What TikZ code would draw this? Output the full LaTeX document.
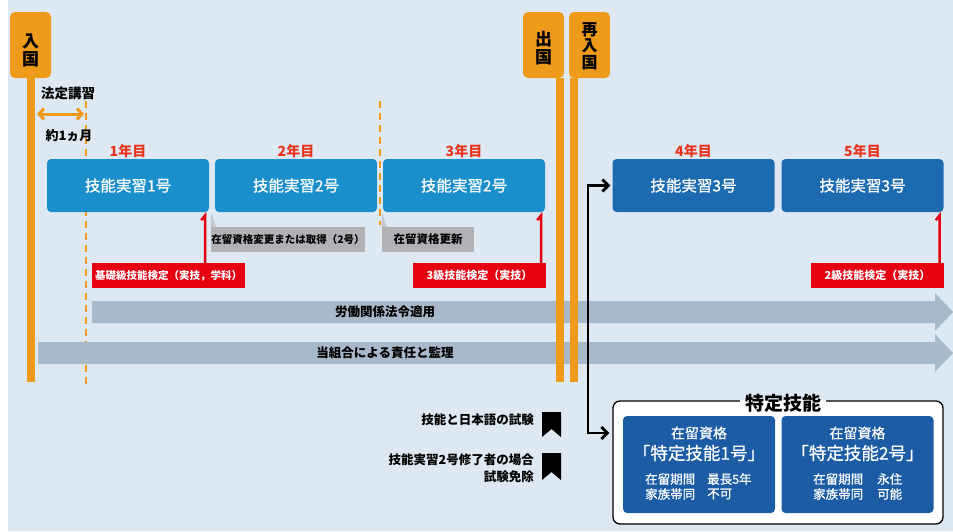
\documentclass[tikz,border=0pt]{standalone}
\usepackage{fontspec}
\setmainfont{Noto Sans CJK JP}
\newfontfamily\medfont[FakeBold=0.6]{Noto Sans CJK JP}
\usetikzlibrary{arrows.meta,calc}
\definecolor{bg}{HTML}{DDE8F3}
\definecolor{org}{HTML}{EE9B1C}
\definecolor{lblue}{HTML}{1B8FCB}
\definecolor{dblue}{HTML}{1C6BB0}
\definecolor{sblue}{HTML}{1B5CA5}
\definecolor{rd}{HTML}{E50012}
\definecolor{yr}{HTML}{E83520}
\definecolor{glab}{HTML}{B1B2B6}
\definecolor{gtab}{HTML}{C4C6CB}
\definecolor{garr}{HTML}{A8B9CA}
\newcommand{\fsz}[1]{\fontsize{#1}{#1}\selectfont}
\begin{document}
\begin{tikzpicture}[x=1pt,y=-1pt,
  post/.style={fill=org, rounded corners=5pt, minimum width=41pt, minimum height=66pt, inner sep=0pt},
  posttext/.style={inner sep=0pt, align=center, font=\fontsize{17}{18}\selectfont\bfseries},
  oline/.style={draw=org, line width=8pt},
  odash/.style={draw=org, line width=2.5pt, dash pattern=on 7pt off 5pt},
  yearlab/.style={text=yr, font=\fsz{14}\bfseries, inner sep=0pt},
  lbox/.style={fill=lblue, text=white, minimum width=162pt, minimum height=53pt, rounded corners=4pt, inner sep=0pt, font=\medfont\fsz{15.5}},
  dbox/.style={lbox, fill=dblue},
  rlab/.style={fill=rd, text=white, minimum height=25pt, inner sep=0pt, font=\fsz{11}\bfseries},
  rline/.style={draw=rd, line width=2.5pt},
  glabel/.style={fill=glab, text=black, minimum height=25pt, inner sep=0pt, font=\fsz{10.5}\bfseries},
  atext/.style={font=\fsz{12.5}\bfseries, inner sep=0pt},
  blk/.style={draw=black, line width=2.8pt},
  sbox/.style={fill=sblue, minimum width=152pt, minimum height=97pt, rounded corners=4pt, inner sep=0pt},
  stext/.style={text=white, inner sep=0pt},
  extext/.style={font=\fontsize{12.5}{17}\selectfont\bfseries, inner sep=0pt, align=right, anchor=east}
]
\useasboundingbox (0,0) rectangle (953,531);
\fill[white] (0,0) rectangle (953,531);
\fill[bg] (8,0) rectangle (953,531);

% dashed orange guides
\coordinate (d1a) at (86,101);
\coordinate (d1b) at (86,388);
\draw[odash] (d1a) -- (d1b);
\coordinate (d2a) at (380,101);
\coordinate (d2b) at (380,225);
\draw[odash] (d2a) -- (d2b);

% grey arrows
\fill[garr] (92,301) -- (935,301) -- (935,293) -- (953,312) -- (935,331) -- (935,323) -- (92,323) -- cycle;
\node[atext] (a1t) at (385,312) {労働関係法令適用};
\fill[garr] (38,342) -- (935,342) -- (935,334) -- (953,353) -- (935,372) -- (935,364) -- (38,364) -- cycle;
\node[atext] (a2t) at (385,353) {当組合による責任と監理};

% orange posts
\node[post] (pin) at (30.5,45) {};
\node[posttext] (pinT) at (30.5,50) {入\\国};
\coordinate (pinEnd) at (30.5,382);
\draw[oline] (pin.south) -- (pinEnd);
\node[post] (pout) at (543.5,45) {};
\node[posttext] (poutT) at (543.5,48) {出\\国};
\coordinate (poutEnd) at (560,382);
\draw[oline] (pout.south -| poutEnd) -- (poutEnd);
\node[post] (pre) at (589.5,45) {};
\node[posttext, font=\fontsize{16}{16.5}\selectfont\bfseries] (preT) at (589.5,46) {再\\入\\国};
\coordinate (preEnd) at (574,382);
\draw[oline] (pre.south -| preEnd) -- (preEnd);

% legal training
\coordinate (ha) at (37,114);
\coordinate (hb) at (84,114);
\draw[draw=org, line width=3pt, {Straight Barb[length=5pt,width=11pt]}-{Straight Barb[length=5pt,width=11pt]}] (ha) -- (hb);
\node[font=\fsz{13.5}\bfseries, inner sep=0pt] (hk) at (68,93) {法定講習};
\node[font=\fsz{13}\bfseries, inner sep=0pt] (ym) at (69,136) {約1ヵ月};

% year labels
\node[yearlab] (y1) at (128,151) {1年目};
\node[yearlab] (y2) at (296,151) {2年目};
\node[yearlab] (y3) at (464,151) {3年目};
\node[yearlab] (y4) at (693.5,151) {4年目};
\node[yearlab] (y5) at (862.5,151) {5年目};

% boxes
\node[lbox] (b1) at (128,185.5) {技能実習1号};
\node[lbox] (b2) at (296,185.5) {技能実習2号};
\node[lbox] (b3) at (464,185.5) {技能実習2号};
\node[dbox] (b4) at (693.5,185.5) {技能実習3号};
\node[dbox] (b5) at (862.5,185.5) {技能実習3号};

% grey labels
\node[glabel, minimum width=148pt] (g1) at (288,239.5) {在留資格変更または取得（2号）};
\fill[gtab] (g1.north west) -- ++(0,-14) -- ++(5,14) -- cycle;
\node[glabel, minimum width=92pt, font=\fsz{11.5}\bfseries] (g2) at (428,239.5) {在留資格更新};
\fill[gtab] (g2.north west) -- ++(0,-14) -- ++(5,14) -- cycle;

% red labels
\node[rlab, minimum width=153pt, font=\fsz{10.5}\bfseries] (r1) at (168.5,275.5) {基礎級技能検定（実技，学科）};
\node[rlab, minimum width=133pt] (r3) at (479.5,275.5) {3級技能検定（実技）};
\node[rlab, minimum width=133pt] (r5) at (877.5,275.5) {2級技能検定（実技）};
\coordinate (t1) at ($(b1.south east)+(-4,3)$);
\coordinate (f1) at ($(b1.south east)+(-8,8)$);
\draw[rline] (f1) -- (t1) -- (t1 |- r1.north);
\coordinate (t3) at ($(b3.south east)+(-4,3)$);
\coordinate (f3) at ($(b3.south east)+(-8,8)$);
\draw[rline] (f3) -- (t3) -- (t3 |- r3.north);
\coordinate (t5) at ($(b5.south east)+(-4,3)$);
\coordinate (f5) at ($(b5.south east)+(-8,8)$);
\draw[rline] (f5) -- (t5) -- (t5 |- r5.north);

% specified skills frame
\node[draw=black, line width=1.3pt, fill=white, rounded corners=7pt, minimum width=330pt, minimum height=123pt, inner sep=0pt] (tk) at (778,462.5) {};
\node[inner xsep=5pt, inner ysep=0pt, font=\fsz{19}\bfseries] (tkt) at (783,403) {\phantom{特定技能}};
\fill[white] (tkt.west |- 0,399.8) rectangle (tkt.east |- 0,402);
\node[inner xsep=5pt, inner ysep=0pt, font=\fsz{19}\bfseries] (tkt2) at (tkt) {特定技能};
\node[sbox] (s1) at (699,464.5) {};
\node[sbox] (s2) at (857.5,464.5) {};
\node[stext, font=\medfont\fsz{14}] (s1a) at (699,433) {在留資格};
\node[stext, font=\medfont\fsz{17.5}] (s1b) at (699,453) {「特定技能1号」};
\node[stext, font=\medfont\fsz{12.5}, anchor=west] (s1c) at (645,479) {在留期間};
\node[stext, font=\medfont\fsz{12.5}, anchor=west] (s1d) at (707,479) {最長5年};
\node[stext, font=\medfont\fsz{12.5}, anchor=west] (s1e) at (645,494) {家族帯同};
\node[stext, font=\medfont\fsz{12.5}, anchor=west] (s1f) at (707,494) {不可};
\node[stext, font=\medfont\fsz{14}] (s2a) at (857.5,433) {在留資格};
\node[stext, font=\medfont\fsz{17.5}] (s2b) at (857.5,453) {「特定技能2号」};
\node[stext, font=\medfont\fsz{12.5}, anchor=west] (s2c) at (813,479) {在留期間};
\node[stext, font=\medfont\fsz{12.5}, anchor=west] (s2d) at (877,479) {永住};
\node[stext, font=\medfont\fsz{12.5}, anchor=west] (s2e) at (813,494) {家族帯同};
\node[stext, font=\medfont\fsz{12.5}, anchor=west] (s2f) at (877,494) {可能};

% exam notes
\node[extext] (ex1) at (534,420) {技能と日本語の試験};
\node[extext] (ex2) at (534,468.5) {技能実習2号修了者の場合\\試験免除};
\fill[black] (542,412) -- (561,412) -- (561,437) -- (551.5,429) -- (542,437) -- cycle;
\fill[black] (542,453) -- (561,453) -- (561,480) -- (551.5,472) -- (542,480) -- cycle;

% black connector
\coordinate (bkt) at (588,185.5);
\coordinate (bkb) at (588,433);
\draw[blk, {Straight Barb[length=6pt,width=12pt]}-{Straight Barb[length=6pt,width=12pt]}, shorten <=2pt, shorten >=3pt] (b4.west) -- (bkt) -- (bkb) -- (tk.west |- bkb);
\end{tikzpicture}
\end{document}
